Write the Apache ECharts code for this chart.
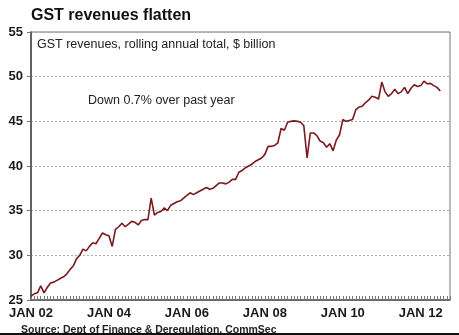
<!DOCTYPE html>
<html>
<head>
<meta charset="utf-8">
<script src="https://cdn.jsdelivr.net/npm/echarts@6/dist/echarts.min.js"></script>
<style>
html,body{margin:0;padding:0;background:#fff;}
#c{width:459px;height:335px;}
</style>
</head>
<body>
<div id="c"></div>
<script>
// Monthly GST revenues, rolling annual total ($bn), Jan 2002 - Jul 2012
var gstValues = [
 25.4,25.7,25.8,26.6,25.8,26.4,26.9,27.0,27.2,27.4,27.6,27.9,
 28.4,28.8,29.6,30.0,30.7,30.5,31.0,31.4,31.3,31.9,32.5,32.3,
 32.2,31.0,32.9,33.2,33.6,33.2,33.5,33.8,33.7,33.4,33.9,34.0,
 34.0,36.4,34.5,34.8,34.9,35.3,35.0,35.6,35.8,36.0,36.1,36.4,
 36.7,37.0,36.8,37.0,37.2,37.4,37.6,37.4,37.5,37.8,38.1,38.1,
 38.0,38.2,38.5,38.5,39.3,39.5,39.8,40.0,40.2,40.5,40.7,40.9,
 41.3,42.2,42.2,42.3,42.6,44.2,44.0,44.9,45.0,45.05,45.0,44.9,
 44.5,40.9,43.7,43.7,43.4,42.8,42.6,42.1,42.5,41.7,42.9,43.5,
 45.2,45.0,45.1,45.2,46.3,46.6,46.7,47.1,47.4,47.8,47.7,47.5,
 49.4,48.3,47.8,48.1,48.6,48.1,48.3,48.8,48.1,48.7,49.1,48.9,
 49.0,49.5,49.2,49.25,49.0,48.8,48.4
];
var yearLabels = ['02','03','04','05','06','07','08','09','10','11','12','13'];
var monthsShown = 130; // axis extends a little past the last observation
var categories = [];
for (var i = 0; i < monthsShown; i++) {
  var y = Math.floor(i / 12), m = i % 12;
  categories.push(m === 0 ? 'JAN ' + yearLabels[y] : 'M' + i);
}
var yTicks = {min: 25, max: 55, step: 5};

var chart = echarts.init(document.getElementById('c'), null, {renderer: 'canvas'});
chart.setOption({
  animation: false,
  backgroundColor: '#fff',
  title: {
    text: 'GST revenues flatten',
    left: 26, top: 3,
    textStyle: {fontFamily: 'Liberation Sans', fontSize: 16, fontWeight: 'bold', color: '#111'}
  },
  grid: {left: 31, right: 9, top: 32, bottom: 35, show: true, borderColor: '#777', borderWidth: 1},
  xAxis: {
    type: 'category',
    data: categories,
    boundaryGap: false,
    axisLine: {lineStyle: {color: '#555', width: 1.5}},
    axisTick: {show: true, inside: true, length: 4, interval: 0, lineStyle: {color: '#777'}},
    axisLabel: {
      interval: function (idx) { return idx % 24 === 0; },
      margin: 7,
      fontFamily: 'Liberation Sans', fontSize: 13, fontWeight: 'bold', color: '#1a1a1a'
    },
    splitLine: {show: false}
  },
  yAxis: {
    type: 'value',
    min: yTicks.min, max: yTicks.max, interval: yTicks.step,
    axisLine: {show: true, lineStyle: {color: '#444', width: 1.5}},
    axisTick: {show: true, length: 4, lineStyle: {color: '#777'}},
    axisLabel: {margin: 8, fontFamily: 'Liberation Sans', fontSize: 13, fontWeight: 'bold', color: '#1a1a1a'},
    splitLine: {show: true, lineStyle: {type: [2, 2], color: '#aaa', width: 1}}
  },
  series: [{
    type: 'line',
    data: gstValues,
    showSymbol: false,
    lineStyle: {color: '#7a1a1f', width: 1.6},
    z: 3
  }],
  graphic: [
    {type: 'text', left: 37, top: 38,
     style: {text: 'GST revenues, rolling annual total, $ billion', fontFamily: 'Liberation Sans', fontSize: 12.5, fill: '#222'}},
    {type: 'text', left: 88, top: 94,
     style: {text: 'Down 0.7% over past year', fontFamily: 'Liberation Sans', fontSize: 12.5, fill: '#222'}},
    {type: 'text', left: 21, top: 325,
     style: {text: 'Source: Dept of Finance & Deregulation, CommSec', fontFamily: 'Liberation Sans', fontSize: 10.5, fontWeight: 'bold', fill: '#222'}},
    {type: 'rect', left: 0, top: 333, shape: {width: 459, height: 2}, style: {fill: '#111'}}
  ]
});
</script>
</body>
</html>
